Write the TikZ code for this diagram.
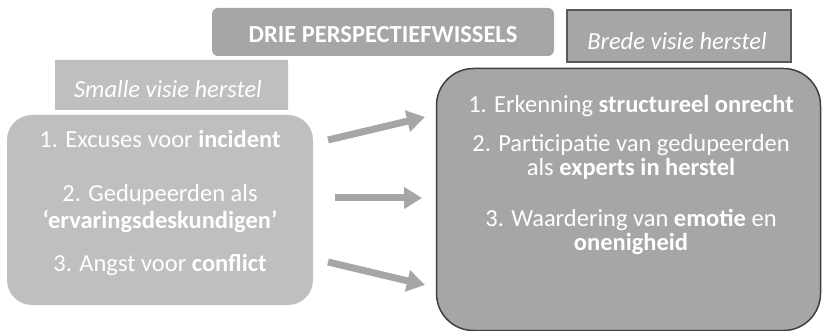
\documentclass[tikz,border=0pt]{standalone}
\usepackage{fontspec}
\setmainfont{Carlito}
\usetikzlibrary{arrows.meta,shapes.misc}
\definecolor{lightg}{HTML}{BFBFBF}
\definecolor{midg}{HTML}{A6A6A6}
\definecolor{darkb}{HTML}{404040}
\definecolor{brdb}{HTML}{595959}
\tikzset{
  txt/.style={text=white,font=\fontsize{24.5}{28}\selectfont,anchor=base,inner sep=0pt},
  bigarrow/.style={draw=midg,line width=7pt,-{Triangle[length=18pt,width=21pt]}},
}
\begin{document}
\begin{tikzpicture}[x=1pt,y=-1pt]
\useasboundingbox (0,0) rectangle (822,331);
% boxes
\node[fill=midg,rounded corners=6pt,minimum width=342pt,minimum height=48pt,inner sep=0pt] (title) at (383,32) {};
\node[txt,font=\fontsize{24.5}{28}\selectfont\bfseries] (titletxt) at (383,43) {DRIE PERSPECTIEFWISSELS};
\node[chamfered rectangle,chamfered rectangle corners=north east,chamfered rectangle xsep=6pt,chamfered rectangle ysep=7pt,fill=lightg,minimum width=233pt,minimum height=50pt,inner sep=0pt] (smalle) at (171.5,85) {};
\node[txt,font=\fontsize{24.5}{28}\selectfont\itshape] (smalletxt) at (168,98) {Smalle visie herstel};
\node[chamfered rectangle,chamfered rectangle corners=north east,chamfered rectangle xsep=10pt,chamfered rectangle ysep=10pt,fill=midg,draw=brdb,line width=2.5pt,minimum width=224pt,minimum height=52pt,inner sep=0pt] (brede) at (679,36) {};
\node[txt,font=\fontsize{24.5}{28}\selectfont\itshape] (bredetxt) at (677,50) {Brede visie herstel};
\node[fill=lightg,rounded corners=25pt,minimum width=306pt,minimum height=190pt,inner sep=0pt] (left) at (160,210) {};
\node[fill=midg,draw=darkb,line width=1.5pt,rounded corners=37pt,minimum width=384pt,minimum height=262pt,inner sep=0pt] (right) at (628.5,199.5) {};
% left texts
\node[txt] (l1) at (160,148) {1. Excuses voor \textbf{incident}};
\node[txt] (l2) at (160,202) {2. Gedupeerden als};
\node[txt] (l3) at (160,229) {\textbf{‘ervaringsdeskundigen’}};
\node[txt] (l4) at (160,272) {3. Angst voor \textbf{conflict}};
% right texts
\node[txt] (r1) at (631,113) {1. Erkenning \textbf{structureel onrecht}};
\node[txt] (r2) at (631,152) {2. Participatie van gedupeerden};
\node[txt] (r3) at (631,176) {als \textbf{experts in herstel}};
\node[txt] (r4) at (631,226) {3. Waardering van \textbf{emotie} en};
\node[txt] (r5) at (631,251) {\textbf{onenigheid}};
% arrows
\coordinate (a1s) at (328,140); \coordinate (a1e) at (425,117);
\coordinate (a2s) at (335,198); \coordinate (a2e) at (422,198);
\coordinate (a3s) at (328,262); \coordinate (a3e) at (425,285);
\draw[bigarrow] (a1s) -- (a1e);
\draw[bigarrow] (a2s) -- (a2e);
\draw[bigarrow] (a3s) -- (a3e);
\end{tikzpicture}
\end{document}
